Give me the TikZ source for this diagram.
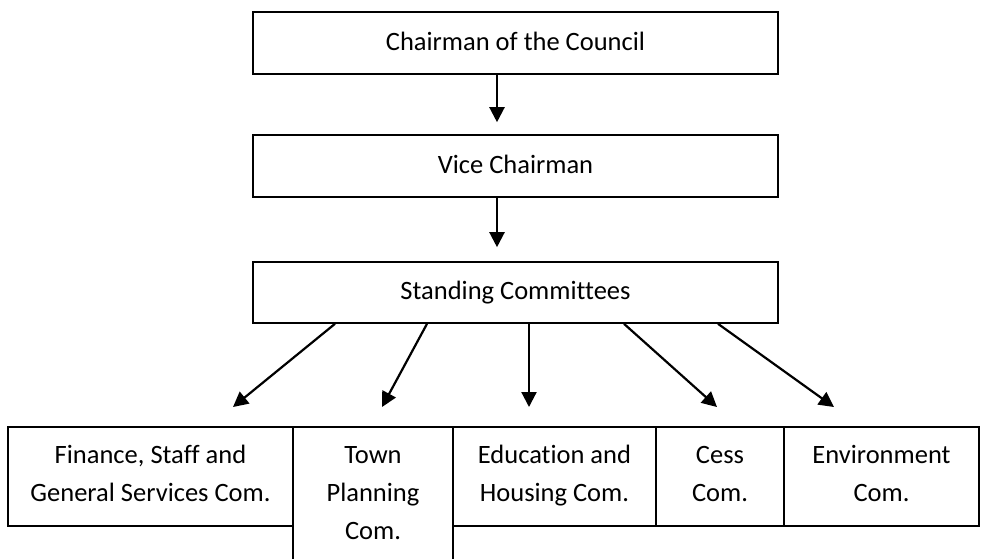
\documentclass[tikz,border=0pt]{standalone}
\usepackage{fontspec}
\setmainfont[Ligatures={NoCommon}]{Carlito}
\usetikzlibrary{arrows.meta}
\begin{document}
\begin{tikzpicture}[x=1pt,y=-1pt,
  box/.style={draw=black,line width=1.6pt,rectangle,inner sep=0pt},
  txt/.style={inner sep=0pt,align=center,font=\fontsize{26.5}{38}\selectfont},
  arr/.style={line width=2.2pt,-{Triangle[length=15pt,width=15pt]}}]
\useasboundingbox[fill=white] (0,0) rectangle (982,558);
\node[box,minimum width=525pt,minimum height=62pt] (chair) at (515.5,43) {};
\node[box,minimum width=525pt,minimum height=62pt] (vice) at (515.5,166) {};
\node[box,minimum width=525pt,minimum height=61pt] (stand) at (515.5,292.5) {};
\node[box,minimum width=285pt,minimum height=99pt] (fin) at (150.5,476.5) {};
\node[box,minimum width=160pt,minimum height=140pt] (town) at (373,497) {};
\node[box,minimum width=203pt,minimum height=99pt] (edu) at (554.5,476.5) {};
\node[box,minimum width=128pt,minimum height=99pt] (cess) at (720,476.5) {};
\node[box,minimum width=195pt,minimum height=99pt] (env) at (881.5,476.5) {};
\node[txt] (chairT) at ([yshift=0.6pt]chair.center) {\strut Chairman of the Council};
\node[txt] (viceT) at ([yshift=0.6pt]vice.center) {\strut Vice Chairman};
\node[txt] (standT) at ([yshift=0.6pt]stand.center) {\strut Standing Committees};
\node[txt] (finT) at ([yshift=2pt]fin.center) {\strut Finance, Staff and\\\strut General Services Com.};
\node[txt] (townT) at ([yshift=3.6pt]town.center) {\strut Town\\\strut Planning\\\strut Com.};
\node[txt] (eduT) at ([yshift=2pt]edu.center) {\strut Education and\\\strut Housing Com.};
\node[txt] (cessT) at ([yshift=2pt]cess.center) {\strut Cess\\\strut Com.};
\node[txt] (envT) at ([yshift=2pt]env.center) {\strut Environment\\\strut Com.};
\draw[arr] ([xshift=-18.5pt]chair.south) -- ([xshift=-18.5pt,yshift=12pt]vice.north);
\draw[arr] ([xshift=-18.5pt]vice.south) -- ([xshift=-18.5pt,yshift=14pt]stand.north);
\coordinate (t1) at (233,407);
\coordinate (t2) at (382,407);
\coordinate (t3) at (529,407);
\coordinate (t4) at (717,407);
\coordinate (t5) at (834,407);
\draw[arr] ([xshift=-180.5pt]stand.south) -- (t1);
\draw[arr] ([xshift=-88.5pt]stand.south) -- (t2);
\draw[arr] ([xshift=13.5pt]stand.south) -- (t3);
\draw[arr] ([xshift=108.5pt]stand.south) -- (t4);
\draw[arr] ([xshift=202.5pt]stand.south) -- (t5);
\end{tikzpicture}
\end{document}
